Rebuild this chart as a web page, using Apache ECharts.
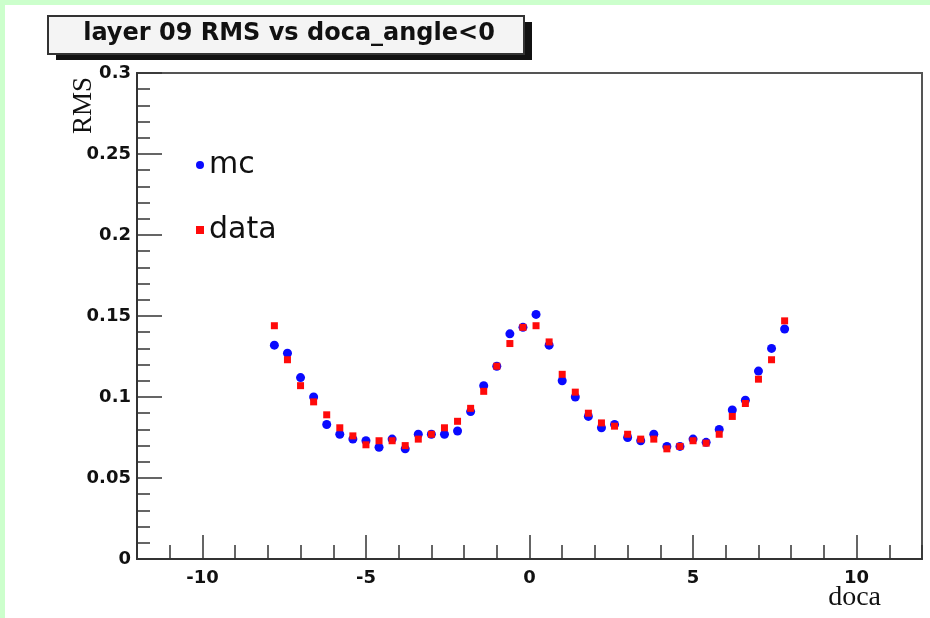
<!DOCTYPE html>
<html>
<head>
<meta charset="utf-8">
<script src="https://cdn.jsdelivr.net/npm/echarts@6/dist/echarts.min.js"></script>
<style>
  html, body { margin: 0; padding: 0; background: #ffffff; }
  #chart { width: 930px; height: 618px; }
</style>
</head>
<body>
<div id="chart"></div>
<script>
// doca bin centres (cm)
const doca = [
  -7.8, -7.4, -7.0, -6.6, -6.2, -5.8, -5.4, -5.0, -4.6, -4.2,
  -3.8, -3.4, -3.0, -2.6, -2.2, -1.8, -1.4, -1.0, -0.6, -0.2,
   0.2,  0.6,  1.0,  1.4,  1.8,  2.2,  2.6,  3.0,  3.4,  3.8,
   4.2,  4.6,  5.0,  5.4,  5.8,  6.2,  6.6,  7.0,  7.4,  7.8
];

// residual RMS per bin, simulation
const mcRms = [
  0.132, 0.127, 0.112, 0.100, 0.083, 0.077, 0.074, 0.073, 0.069, 0.074,
  0.068, 0.077, 0.077, 0.077, 0.079, 0.091, 0.107, 0.119, 0.139, 0.143,
  0.151, 0.132, 0.110, 0.100, 0.088, 0.081, 0.083, 0.075, 0.073, 0.077,
  0.0695, 0.0695, 0.074, 0.072, 0.080, 0.092, 0.098, 0.116, 0.130, 0.142
];

// residual RMS per bin, measured
const dataRms = [
  0.144, 0.123, 0.107, 0.097, 0.089, 0.081, 0.076, 0.0705, 0.073, 0.073,
  0.070, 0.074, 0.077, 0.081, 0.085, 0.093, 0.1035, 0.119, 0.133, 0.143,
  0.144, 0.134, 0.114, 0.103, 0.090, 0.084, 0.082, 0.077, 0.074, 0.074,
  0.068, 0.0695, 0.073, 0.0715, 0.077, 0.088, 0.096, 0.111, 0.123, 0.147
];

const seriesNames = ['mc', 'data'];
const xMajorTicks = [-10, -5, 0, 5, 10];
const titleText = 'layer 09 RMS vs doca_angle<0';
const xTitle = 'doca';
const yTitle = 'RMS';

const pairs = (xs, ys) => xs.map((x, i) => [x, ys[i]]);

const axisColor = '#333333';
const labelFont = {
  fontFamily: 'DejaVu Sans',
  fontWeight: 'bold',
  fontSize: 18,
  color: '#111111'
};

const chart = echarts.init(document.getElementById('chart'), null, { renderer: 'canvas' });

chart.setOption({
  backgroundColor: '#ffffff',
  animation: false,
  title: {
    text: titleText,
    left: 289,
    top: 22,
    textAlign: 'center',
    padding: 0,
    z: 10,
    textStyle: {
      fontFamily: 'DejaVu Sans',
      fontWeight: 'bold',
      fontSize: 24,
      color: '#111111'
    }
  },
  graphic: [
    // pale green page edges
    { type: 'rect', left: 0, top: 0, shape: { width: 930, height: 5 }, style: { fill: '#ccffcc' }, z: 0 },
    { type: 'rect', left: 0, top: 0, shape: { width: 5, height: 618 }, style: { fill: '#ccffcc' }, z: 0 },
    // title pave with drop shadow
    { type: 'rect', x: 56, y: 22, shape: { width: 476, height: 38 }, style: { fill: '#111111' }, z: 1 },
    { type: 'rect', x: 48, y: 16, shape: { width: 476, height: 38 },
      style: { fill: '#f4f4f4', stroke: '#333333', lineWidth: 2 }, z: 2 },
    // y axis title, rotated
    { type: 'text', x: 97, y: 134, rotation: Math.PI / 2, z: 5,
      style: { text: yTitle, font: '27px "Liberation Serif"', fill: '#111111',
               textAlign: 'left', textVerticalAlign: 'bottom' } },
    // x axis title
    { type: 'text', x: 881, y: 598, z: 5,
      style: { text: xTitle, font: '28px "Liberation Serif"', fill: '#111111',
               textAlign: 'right', textVerticalAlign: 'middle' } }
  ],
  legend: {
    orient: 'vertical',
    left: 191,
    top: 145,
    itemGap: 35,
    itemWidth: 8,
    itemHeight: 8,
    data: seriesNames,
    textStyle: { fontFamily: 'DejaVu Sans', fontSize: 30, color: '#111111' }
  },
  grid: {
    left: 137, right: 8, top: 73, bottom: 59,
    show: true,
    borderColor: '#555555',
    borderWidth: 2,
    backgroundColor: 'transparent'
  },
  xAxis: [
    {
      type: 'value',
      position: 'bottom',
      min: -12, max: 12,
      axisLine: { show: true, onZero: false, lineStyle: { color: axisColor, width: 2 } },
      axisTick: { show: true, inside: true, length: 24, customValues: xMajorTicks,
                  lineStyle: { color: axisColor, width: 1.5 } },
      axisLabel: { customValues: xMajorTicks, margin: 10, ...labelFont },
      splitLine: { show: false }
    },
    {
      type: 'value',
      position: 'bottom',
      min: -12, max: 12, interval: 1,
      axisLine: { show: false, onZero: false },
      axisTick: { show: true, inside: true, length: 14, lineStyle: { color: axisColor, width: 1.5 } },
      axisLabel: { show: false },
      splitLine: { show: false }
    }
  ],
  yAxis: {
    type: 'value',
    min: 0, max: 0.3, interval: 0.05,
    axisLine: { show: true, onZero: false, lineStyle: { color: axisColor, width: 2 } },
    axisTick: { show: true, inside: true, length: 25, lineStyle: { color: axisColor, width: 1.5 } },
    minorTick: { show: true, splitNumber: 5, length: 13, lineStyle: { color: axisColor, width: 1.5 } },
    axisLabel: { margin: 6, ...labelFont },
    splitLine: { show: false },
    minorSplitLine: { show: false }
  },
  series: [
    {
      name: seriesNames[0],
      type: 'scatter',
      xAxisIndex: 0,
      symbol: 'circle',
      symbolSize: 9,
      itemStyle: { color: '#0a0aff', opacity: 1 },
      data: pairs(doca, mcRms),
      z: 3
    },
    {
      name: seriesNames[1],
      type: 'scatter',
      xAxisIndex: 0,
      symbol: 'rect',
      symbolSize: 7,
      itemStyle: { color: '#ff0a0a', opacity: 1 },
      data: pairs(doca, dataRms),
      z: 4
    }
  ]
});
</script>
</body>
</html>
